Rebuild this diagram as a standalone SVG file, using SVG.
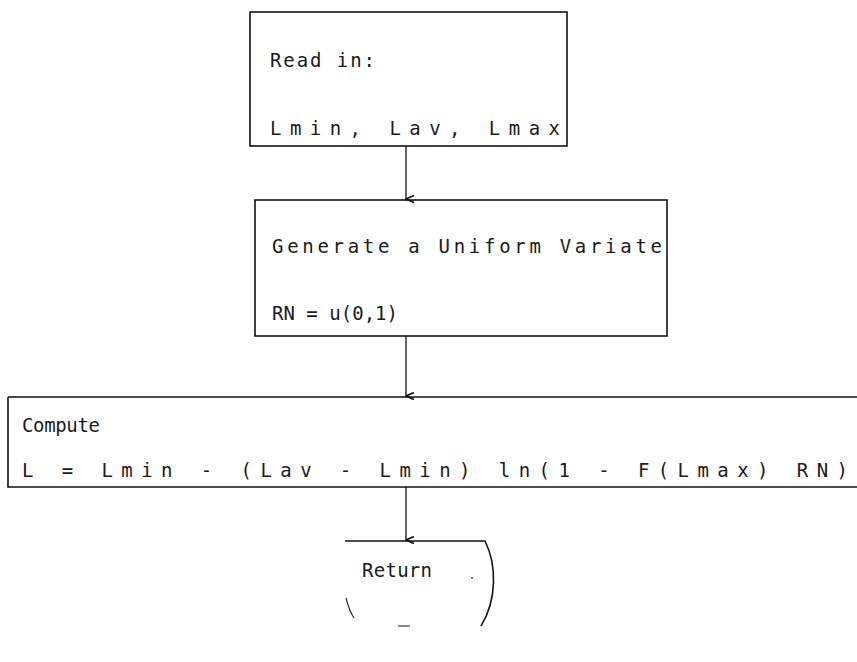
<svg xmlns="http://www.w3.org/2000/svg" width="857" height="662" viewBox="0 0 857 662">
  <style>
    .box { fill: none; stroke: #111; stroke-width: 1.6; }
    .faint { fill: none; stroke: #333; stroke-width: 1.2; }
    .lbl { font-family: "DejaVu Sans Mono", "Liberation Mono", monospace; font-size: 19px; fill: #1a1a1a; }
    .wire { fill: none; stroke: #111; stroke-width: 1.3; }
  </style>
  <defs>
    <marker id="vee" viewBox="0 0 10 10" refX="5" refY="9" markerWidth="10" markerHeight="10" markerUnits="userSpaceOnUse" orient="auto-start-reverse">
      <path d="M1.5,1 L5,9 L8.5,1" fill="none" stroke="#111" stroke-width="1.6"/>
    </marker>
  </defs>
  <rect width="857" height="662" fill="#fff"/>

  <!-- input step -->
  <g id="read-in">
    <rect class="box" x="250" y="12" width="317" height="134"/>
    <text class="lbl" x="270" y="67" textLength="105" lengthAdjust="spacing">Read in:</text>
    <text class="lbl" x="270" y="135" textLength="290" lengthAdjust="spacing">Lmin, Lav, Lmax</text>
  </g>

  <!-- random number step -->
  <g id="generate">
    <rect class="box" x="255" y="200" width="412" height="136"/>
    <text class="lbl" x="272" y="253" textLength="390" lengthAdjust="spacing">Generate a Uniform Variate</text>
    <text class="lbl" x="272" y="320" textLength="126" lengthAdjust="spacing">RN = u(0,1)</text>
  </g>

  <!-- computation step -->
  <g id="compute">
    <path class="box" d="M8,397 H857 M8,397 V487 H857"/>
    <text class="lbl" x="22" y="432" textLength="78" lengthAdjust="spacing">Compute</text>
    <text class="lbl" x="22" y="477" textLength="826" lengthAdjust="spacing">L = Lmin - (Lav - Lmin) ln(1 - F(Lmax) RN)</text>
  </g>

  <!-- terminator -->
  <g id="return">
    <path class="box" d="M345,541 H485 C497,565 497,600 481,626"/>
    <path class="faint" d="M346,598 C348,606 350,612 354,618"/>
    <path class="faint" d="M398,626 H410"/>
    <circle cx="472" cy="578" r="0.9" fill="#333"/>
    <text class="lbl" x="362" y="577" textLength="70" lengthAdjust="spacing">Return</text>
  </g>

  <g id="connectors">
    <path class="wire" d="M406,146 V199" marker-end="url(#vee)"/>
    <path class="wire" d="M406,336 V396" marker-end="url(#vee)"/>
    <path class="wire" d="M406,487 V540" marker-end="url(#vee)"/>
  </g>
</svg>
